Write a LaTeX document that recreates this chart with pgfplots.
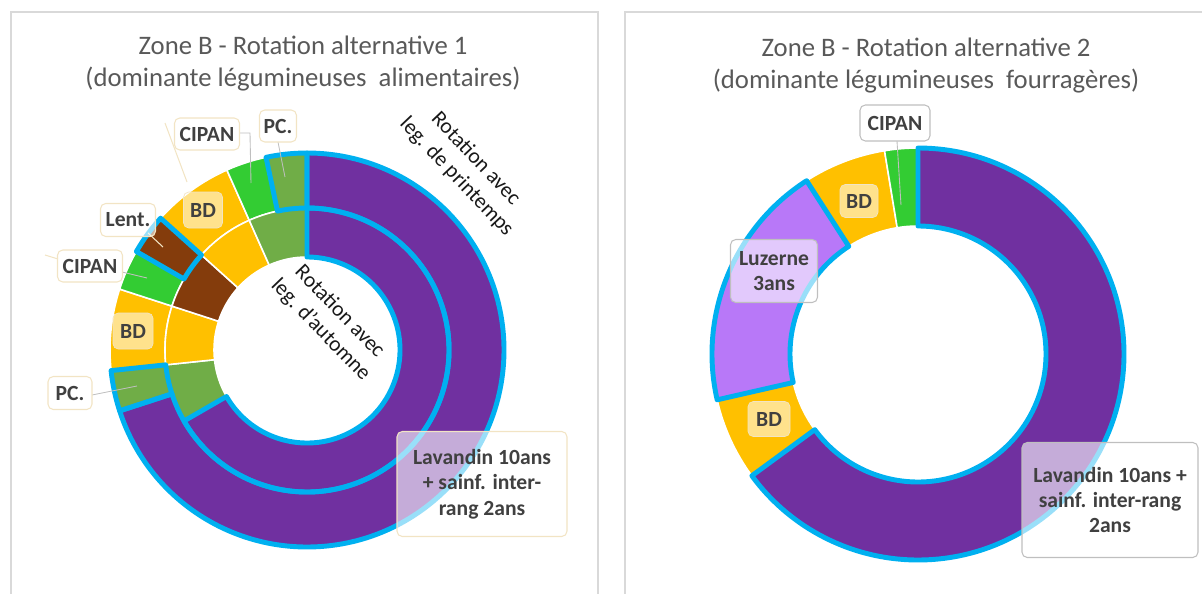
\documentclass[border=0pt]{standalone}
\usepackage{pgfplots}
\pgfplotsset{compat=1.18}
\usepackage{pgfplotstable}
\usepackage{fontspec}
\setmainfont{Carlito}
\newdimen\px \px=0.02cm
\definecolor{cPurple}{HTML}{7030A0}
\definecolor{cYellow}{HTML}{FFC000}
\definecolor{cGreen}{HTML}{33CC33}
\definecolor{cOlive}{HTML}{70AD47}
\definecolor{cBrown}{HTML}{843C0C}
\definecolor{cLuz}{HTML}{B878F8}
\definecolor{cBlue}{HTML}{00B0F0}
\definecolor{cTitle}{HTML}{595959}
\definecolor{cText}{HTML}{404040}
\definecolor{cBeige}{HTML}{F2E4C4}
\definecolor{cGrayB}{HTML}{BFBFBF}
\definecolor{cLead}{HTML}{BFBFBF}
\definecolor{cFrame}{HTML}{D9D9D9}

% outer ring, alternative 1 (leg. de printemps)
\pgfplotstableread{
v  c        b
21 cPurple  1
1  cOlive   1
2  cYellow  0
1  cGreen   0
1  cBrown   1
2  cYellow  0
1  cGreen   0
1  cOlive   1
}\outerA
% inner ring, alternative 1 (leg. d'automne)
\pgfplotstableread{
v  c        b
20 cPurple  1
2  cOlive   0
2  cYellow  0
2  cBrown   0
2  cYellow  0
2  cOlive   0
}\innerA
% alternative 2
\pgfplotstableread{
v    c        b
10   cPurple  1
1    cYellow  0
3    cLuz     1
1    cYellow  0
0.4  cGreen   0
}\ringB

% #1 table, #2 cx, #3 cy, #4 r inner, #5 r outer, #6 pass (0 fill, 1 blue border)
\newcommand{\donut}[6]{%
  \pgfplotstablegetrowsof{#1}%
  \pgfmathtruncatemacro\nlast{\pgfplotsretval-1}%
  \def\dtot{0}%
  \pgfplotsforeachungrouped \ii in {0,...,\nlast}{%
    \pgfplotstablegetelem{\ii}{v}\of{#1}%
    \pgfmathsetmacro\dtot{\dtot+\pgfplotsretval}}%
  \def\dcum{0}%
  \pgfmathsetmacro\dro{#5*0.02}%
  \pgfmathsetmacro\dri{#4*0.02}%
  \pgfmathsetmacro\ddr{(#5-#4)*0.02}%
  \pgfplotsforeachungrouped \ii in {0,...,\nlast}{%
    \pgfplotstablegetelem{\ii}{v}\of{#1}\let\dval\pgfplotsretval
    \pgfplotstablegetelem{\ii}{c}\of{#1}\let\dcol\pgfplotsretval
    \pgfplotstablegetelem{\ii}{b}\of{#1}\let\dbor\pgfplotsretval
    \pgfmathsetmacro\dsa{90-360*\dcum/\dtot}%
    \pgfmathsetmacro\dcum{\dcum+\dval}%
    \pgfmathsetmacro\dea{90-360*\dcum/\dtot}%
    \pgfmathsetmacro\dback{\dea+180}%
    \ifnum#6=0
      \edef\dcmd{\noexpand\fill[\dcol, draw=white, line width=0.9pt, line join=round] (axis cs:#2,#3) ++(\dsa:\dro cm) arc[start angle=\dsa, end angle=\dea, radius=\dro cm] -- ++(\dback:\ddr cm) arc[start angle=\dea, end angle=\dsa, radius=\dri cm] -- cycle;}%
      \dcmd
    \else
      \ifnum\dbor=1
        \edef\dcmd{\noexpand\draw[cBlue, line width=2.8pt, line join=round] (axis cs:#2,#3) ++(\dsa:\dro cm) arc[start angle=\dsa, end angle=\dea, radius=\dro cm] -- ++(\dback:\ddr cm) arc[start angle=\dea, end angle=\dsa, radius=\dri cm] -- cycle;}%
        \dcmd
      \fi
    \fi
  }%
}

\tikzset{
  lb/.style={font=\fontsize{12.3}{14.5}\selectfont\bfseries, text=cText, inner sep=0pt, rounded corners=3pt, align=center},
  wbox/.style={lb, draw=cBeige, line width=0.6pt, fill=white, fill opacity=0.6, text opacity=1},
  gbox/.style={lb, draw=cGrayB, line width=0.6pt, fill=white, fill opacity=0.6, text opacity=1},
  ybox/.style={lb, draw=cBeige, line width=0.4pt, fill=white, fill opacity=0.55, text opacity=1},
  ld/.style={cLead, line width=0.5pt},
  fd/.style={cBeige, line width=0.6pt},
  rt/.style={font=\fontsize{12.3}{15}\selectfont, text=black!90, align=center, inner sep=0pt},
  tt/.style={font=\fontsize{15.2}{18.2}\selectfont, text=cTitle, align=center, inner sep=0pt},
}

\begin{document}
\begin{tikzpicture}
\begin{axis}[x=0.02cm, y=0.02cm, xmin=0, xmax=1202, ymin=0, ymax=593,
  hide axis, clip=false]
\coordinate (BL) at (axis cs:0,0);
\coordinate (TR) at (axis cs:1202,593);
% panel frames
\draw[cFrame, line width=0.8pt] (axis cs:11,-10) -- (axis cs:11,581) -- (axis cs:598,581) -- (axis cs:598,-10);
\draw[cFrame, line width=0.8pt] (axis cs:625,-10) -- (axis cs:625,581) -- (axis cs:1215,581);
% titles
\node[tt] at (axis cs:303,529) {Zone B - Rotation alternative 1\\(dominante légumineuses \ alimentaires)};
\node[tt] at (axis cs:926,527) {Zone B - Rotation alternative 2\\(dominante légumineuses \ fourragères)};
% donuts
\donut{\outerA}{307}{243}{142}{197}{0}
\donut{\innerA}{307}{243}{93}{142}{0}
\donut{\outerA}{307}{243}{142}{197}{1}
\donut{\innerA}{307}{243}{93}{142}{1}
\donut{\ringB}{918}{239}{128}{206}{0}
\donut{\ringB}{918}{239}{128}{206}{1}
% leader lines
\draw[ld] (axis cs:240,460) -- (axis cs:250,460) -- (axis cs:251,410);
\draw[ld] (axis cs:278,451) -- (axis cs:285,416);
\draw[fd] (axis cs:165,470) -- (axis cs:187,411);
\draw[fd] (axis cs:148,360) -- (axis cs:163,346);
\draw[ld] (axis cs:122,321) -- (axis cs:147,315);
\draw[fd] (axis cs:45,338) -- (axis cs:58,334);
\draw[ld] (axis cs:92,198) -- (axis cs:137,207);
\draw[ld] (axis cs:897,452) -- (axis cs:901,388);
% labels, alternative 1
\node[wbox, minimum width=65\px, minimum height=32\px] at (axis cs:207,459) {CIPAN};
\node[wbox, minimum width=37\px, minimum height=32\px] at (axis cs:278,467) {PC.};
\node[ybox, minimum width=39\px, minimum height=36\px] at (axis cs:203,383) {BD};
\node[wbox, minimum width=55\px, minimum height=33\px] at (axis cs:128,373) {Lent.};
\node[wbox, minimum width=65\px, minimum height=32\px] at (axis cs:90,327) {CIPAN};
\node[ybox, minimum width=40\px, minimum height=36\px] at (axis cs:133,262) {BD};
\node[wbox, minimum width=44\px, minimum height=33\px] at (axis cs:70,200) {PC.};
\node[wbox, minimum width=170\px, minimum height=105\px] at (axis cs:482,109) {Lavandin 10ans\\+ sainf. inter-\\rang 2ans};
\node[rt, rotate=-46.5] at (axis cs:466,425) {Rotation avec\\leg. de printemps};
\node[rt, rotate=-46] at (axis cs:330,272) {Rotation avec\\leg. d'automne};
% labels, alternative 2
\node[gbox, minimum width=70\px, minimum height=36\px] at (axis cs:895,470) {CIPAN};
\node[ybox, minimum width=38\px, minimum height=33\px] at (axis cs:859,392) {BD};
\node[gbox, minimum width=87\px, minimum height=63\px] at (axis cs:774,322) {Luzerne\\3ans};
\node[ybox, minimum width=42\px, minimum height=35\px] at (axis cs:769,174) {BD};
\node[gbox, minimum width=176\px, minimum height=115\px] at (axis cs:1110,93) {Lavandin 10ans +\\sainf. inter-rang\\2ans};
\end{axis}
\pgfresetboundingbox
\useasboundingbox (BL) rectangle (TR);
\end{tikzpicture}
\end{document}
